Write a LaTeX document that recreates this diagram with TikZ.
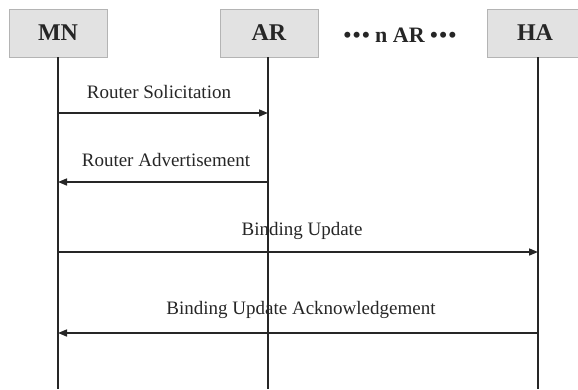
\documentclass[tikz,border=0pt]{standalone}
\usepackage{fontspec}
\setmainfont{Liberation Serif}
\usetikzlibrary{arrows.meta}
\definecolor{boxfill}{HTML}{E2E2E2}
\definecolor{boxline}{HTML}{B4B4B4}
\newcommand{\mydots}{\textbullet\hspace{1.5pt}\textbullet\hspace{1.5pt}\textbullet}
\begin{document}
\begin{tikzpicture}[x=1pt,y=-1pt,
  entity/.style={draw=boxline, line width=1pt, fill=boxfill, minimum height=48pt, inner sep=0pt, font=\fontsize{24}{28}\selectfont\bfseries, text=black!85},
  life/.style={line width=1.6pt, black!85},
  msg/.style={line width=1.6pt, black!85, -{Triangle[length=9pt,width=7pt]}},
  lbl/.style={font=\fontsize{19}{22}\selectfont, text=black!85, inner sep=0pt}]
\useasboundingbox (0,0) rectangle (578,389);
\node[entity, minimum width=98pt] (mn) at (58,33) {MN};
\node[entity, minimum width=98pt] (ar) at (269,33) {AR};
\node[entity, minimum width=96pt] (ha) at (535,33) {HA};
\node[font=\fontsize{22}{26}\selectfont\bfseries, text=black!85] (nar) at (400,35) {\mydots\ n AR \mydots};
\coordinate (mnb) at (58,389);
\coordinate (arb) at (268,389);
\coordinate (hab) at (538,389);
\coordinate (mnt) at (58,57);
\coordinate (art) at (268,57);
\coordinate (hat) at (538,57);
\draw[life] (mnt) -- (mnb);
\draw[life] (art) -- (arb);
\draw[life] (hat) -- (hab);
% messages
\coordinate (m1) at (58,113); \coordinate (a1) at (268,113);
\coordinate (m2) at (58,182); \coordinate (a2) at (268,182);
\coordinate (m3) at (58,252); \coordinate (h3) at (538,252);
\coordinate (m4) at (58,333); \coordinate (h4) at (538,333);
\draw[msg] (m1) -- (a1);
\draw[msg] (a2) -- (m2);
\draw[msg] (m3) -- (h3);
\draw[msg] (h4) -- (m4);
\node[lbl] (l1) at (159,92) {Router Solicitation};
\node[lbl] (l2) at (166,160) {Router Advertisement};
\node[lbl] (l3) at (302,231) {Binding Update};
\node[lbl] (l4) at (301,310) {Binding Update Acknowledgement};
\end{tikzpicture}
\end{document}
